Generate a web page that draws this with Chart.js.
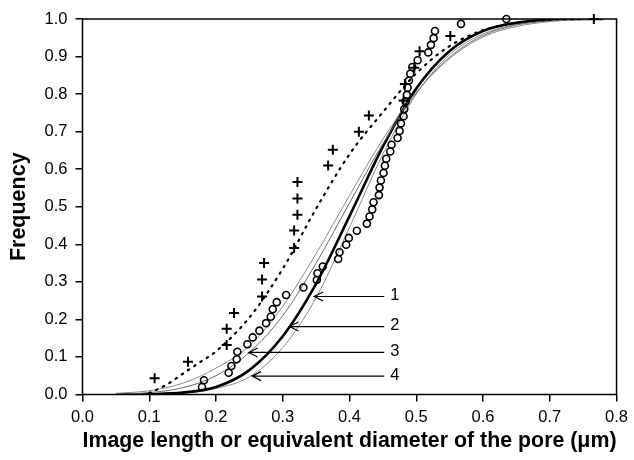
<!DOCTYPE html>
<html>
<head>
<meta charset="utf-8">
<script src="https://cdn.jsdelivr.net/npm/chart.js@4.4.0/dist/chart.umd.min.js"></script>
<style>
html, body { margin: 0; padding: 0; background: #fff; }
#wrap { width: 634px; height: 460px; }
</style>
</head>
<body>
<div id="wrap"><canvas id="chartPore"></canvas></div>
<script>
// measured points, "+" series
const crossX = [0.108, 0.158, 0.216, 0.216, 0.227, 0.269, 0.269, 0.272, 0.317, 0.317, 0.322, 0.322, 0.322,
                0.368, 0.375, 0.414, 0.429, 0.481, 0.483, 0.497, 0.505, 0.551, 0.766];
const crossY = [0.043, 0.087, 0.132, 0.175, 0.217, 0.261, 0.306, 0.350, 0.390, 0.437, 0.479, 0.522, 0.566,
                0.610, 0.652, 0.700, 0.743, 0.783, 0.827, 0.870, 0.914, 0.955, 1.000];

// measured points, "o" series
const circleX = [0.179, 0.182, 0.219, 0.223, 0.231, 0.232, 0.247, 0.255, 0.265, 0.275, 0.282, 0.285, 0.291,
                 0.305, 0.331, 0.351, 0.352, 0.360, 0.383, 0.385, 0.395, 0.399, 0.411, 0.426, 0.430, 0.434,
                 0.436, 0.444, 0.445, 0.447, 0.451, 0.453, 0.455, 0.461, 0.463, 0.472, 0.475, 0.477, 0.481,
                 0.482, 0.484, 0.486, 0.487, 0.489, 0.491, 0.494, 0.502, 0.518, 0.522, 0.526, 0.528, 0.567, 0.635];
const circleY = [0.020, 0.038, 0.058, 0.076, 0.094, 0.114, 0.134, 0.152, 0.170, 0.190, 0.207, 0.227, 0.246,
                 0.265, 0.285, 0.305, 0.323, 0.341, 0.361, 0.379, 0.399, 0.417, 0.436, 0.455, 0.474, 0.493,
                 0.512, 0.531, 0.551, 0.570, 0.590, 0.609, 0.628, 0.647, 0.665, 0.683, 0.702, 0.722, 0.741,
                 0.760, 0.780, 0.798, 0.817, 0.836, 0.854, 0.872, 0.890, 0.911, 0.931, 0.949, 0.968, 0.987, 1.000];

// fitted curves
const curveX = [0.05, 0.10, 0.15, 0.20, 0.25, 0.30, 0.35, 0.40, 0.45, 0.50, 0.55, 0.60, 0.65, 0.70, 0.75, 0.78];
const curveA = [0.003, 0.010, 0.030, 0.070, 0.130, 0.235, 0.375, 0.530, 0.680, 0.805, 0.895, 0.952, 0.980, 0.993, 0.999, 1.0];
const curveB = [0.001, 0.005, 0.018, 0.050, 0.112, 0.210, 0.350, 0.510, 0.668, 0.803, 0.898, 0.956, 0.984, 0.995, 1.0, 1.0];
const curveC = [0.000, 0.001, 0.005, 0.020, 0.065, 0.155, 0.295, 0.475, 0.660, 0.815, 0.915, 0.968, 0.990, 0.998, 1.0, 1.0];
const curveD = [0.000, 0.001, 0.004, 0.016, 0.047, 0.125, 0.258, 0.445, 0.640, 0.800, 0.905, 0.960, 0.986, 0.996, 1.0, 1.0];

const dottedX = [0.10, 0.125, 0.15, 0.175, 0.20, 0.25, 0.30, 0.35, 0.40, 0.45, 0.50, 0.55, 0.60, 0.65, 0.70, 0.75];
const dottedY = [0.004, 0.025, 0.055, 0.085, 0.115, 0.205, 0.335, 0.495, 0.640, 0.752, 0.855, 0.928, 0.970, 0.990, 0.998, 1.0];

// arrows pointing at curves 1..4
const arrowLabels = ['1', '2', '3', '4'];
const arrowY = [0.261, 0.181, 0.112, 0.049];
const arrowTipX = [0.347, 0.310, 0.249, 0.254];
const arrowTailX = 0.452;

function pts(xs, ys) { return xs.map((x, i) => ({ x: x, y: ys[i] })); }

const fontName = "'Liberation Sans', Arial, sans-serif";

function curveSet(ys, color, width) {
    return { data: pts(curveX, ys), showLine: true, pointRadius: 0, borderColor: color,
             borderWidth: width, cubicInterpolationMode: 'monotone', fill: false };
}

const framePlugin = {
    id: 'framePlugin',
    afterDatasetsDraw(chart) {
        const ctx = chart.ctx, a = chart.chartArea;
        const xs = chart.scales.x, ys = chart.scales.y;
        ctx.save();
        ctx.strokeStyle = '#000';
        ctx.lineWidth = 1.5;
        ctx.strokeRect(a.left, a.top, a.right - a.left, a.bottom - a.top);

        ctx.lineWidth = 1.2;
        ctx.font = '16.5px ' + fontName;
        ctx.fillStyle = '#000';
        ctx.textBaseline = 'middle';
        arrowLabels.forEach((lab, i) => {
            const y = ys.getPixelForValue(arrowY[i]);
            const x0 = xs.getPixelForValue(arrowTipX[i]);
            const x1 = xs.getPixelForValue(arrowTailX);
            ctx.beginPath();
            ctx.moveTo(x1, y); ctx.lineTo(x0, y);
            ctx.moveTo(x0 + 9, y - 4.5); ctx.lineTo(x0, y); ctx.lineTo(x0 + 9, y + 4.5);
            ctx.stroke();
            ctx.fillText(lab, x1 + 6, y - 1);
        });
        ctx.restore();
    }
};

new Chart(document.getElementById('chartPore'), {
    type: 'scatter',
    data: {
        datasets: [
            { data: pts(crossX, crossY), pointStyle: 'cross', pointRadius: 5, borderColor: '#000',
              borderWidth: 2, clip: false },
            { data: pts(circleX, circleY), pointStyle: 'circle', pointRadius: 3.5, borderColor: '#000',
              backgroundColor: 'rgba(255,255,255,0)', borderWidth: 1.6, clip: false },
            { data: pts(dottedX, dottedY), showLine: true, pointRadius: 0, borderColor: '#000',
              borderWidth: 2.2, borderDash: [1.5, 6], borderCapStyle: 'round',
              cubicInterpolationMode: 'monotone', fill: false },
            curveSet(curveA, '#8a8a8a', 1),
            curveSet(curveB, '#6a6a6a', 1),
            curveSet(curveC, '#000', 2.6),
            curveSet(curveD, '#8a8a8a', 1)
        ]
    },
    options: {
        responsive: true,
        maintainAspectRatio: false,
        animation: false,
        layout: { padding: { top: 19, right: 16, left: 0, bottom: 0 } },
        plugins: { legend: { display: false }, tooltip: { enabled: false } },
        scales: {
            x: {
                type: 'linear', min: 0, max: 0.8,
                afterFit: (s) => { s.height = 65.5; },
                border: { display: false },
                grid: { drawOnChartArea: false, color: '#000', lineWidth: 1.5, tickLength: 7 },
                ticks: { stepSize: 0.1, padding: 6, color: '#000', font: { family: fontName, size: 16.5 },
                         callback: (v) => v.toFixed(1) },
                title: { display: true, text: 'Image length or equivalent diameter of the pore (\u03bcm)',
                         color: '#000', font: { family: fontName, size: 21.5, weight: 'bold' },
                         padding: { top: 0, bottom: 6 } }
            },
            y: {
                type: 'linear', min: 0, max: 1.0,
                afterFit: (s) => { s.width = 82.5; },
                border: { display: false },
                grid: { drawOnChartArea: false, color: '#000', lineWidth: 1.5, tickLength: 7 },
                ticks: { stepSize: 0.1, padding: 8, color: '#000', font: { family: fontName, size: 16.5 },
                         callback: (v) => v.toFixed(1) },
                title: { display: true, text: 'Frequency', color: '#000',
                         font: { family: fontName, size: 21.5, weight: 'bold' },
                         padding: { top: 6, bottom: 0 } }
            }
        }
    },
    plugins: [framePlugin]
});
</script>
</body>
</html>
